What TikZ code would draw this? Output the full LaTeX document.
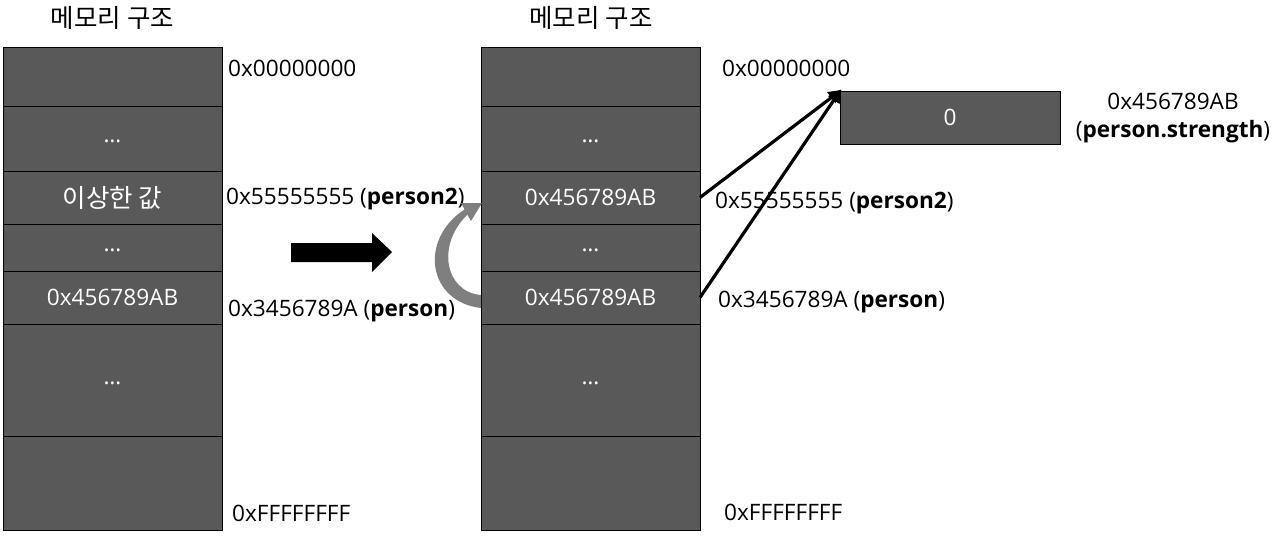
\documentclass[tikz,border=0pt]{standalone}
\usepackage{fontspec}
\usetikzlibrary{arrows.meta}
\setmainfont{Open Sans}
\newfontfamily\kr{Noto Sans CJK KR}
\newcommand{\krbig}{\kr\fontsize{25.5}{30}\selectfont}
\newcommand{\dotsx}{\smash{\raisebox{-4pt}{…}}}
\begin{document}
\begin{tikzpicture}[x=1pt,y=-1pt,
  cell/.style={draw=black, line width=0.9pt, fill=cellgray, minimum width=219pt, inner sep=0pt, outer sep=0pt, anchor=north west, text=white, font=\fontsize{22.6}{27}\selectfont},
  lab/.style={anchor=base west, inner sep=0pt, font=\fontsize{22.6}{27}\selectfont},
  ttl/.style={inner sep=0pt, font=\krbig},
  ptr/.style={line width=3.2pt, -{Triangle[length=13pt,width=13pt]}, shorten >=-2pt}
]
\definecolor{cellgray}{HTML}{595959}
\definecolor{arrgray}{HTML}{7F7F7F}
\useasboundingbox (0,0) rectangle (1273,535);
% titles
\node[ttl] (T1) at (112.5,18) {메모리 구조};
\node[ttl] (T2) at (591,18) {메모리 구조};
% left column
\node[cell, minimum height=59pt] (L1) at (3,47) {};
\node[cell, minimum height=65pt] (L2) at (3,106) {\dotsx};
\node[cell, minimum height=53pt] (L3) at (3,171) {\krbig 이상한 값};
\node[cell, minimum height=47pt] (L4) at (3,224) {\dotsx};
\node[cell, minimum height=53pt] (L5) at (3,271) {0x456789AB};
\node[cell, minimum height=112pt] (L6) at (3,324) {\dotsx};
\node[cell, minimum height=94pt] (L7) at (3,436) {};
% right column
\node[cell, minimum height=59pt] (R1) at (481,47) {};
\node[cell, minimum height=65pt] (R2) at (481,106) {\dotsx};
\node[cell, minimum height=53pt] (R3) at (481,171) {0x456789AB};
\node[cell, minimum height=47pt] (R4) at (481,224) {\dotsx};
\node[cell, minimum height=53pt] (R5) at (481,271) {0x456789AB};
\node[cell, minimum height=112pt] (R6) at (481,324) {\dotsx};
\node[cell, minimum height=94pt] (R7) at (481,436) {};
% zero box
\node[cell, minimum width=220pt, minimum height=53pt] (Z) at (840,91) {0};
% left labels
\node[lab] (la1) at (228,76) {0x00000000};
\node[lab] (la2) at (226,204) {0x55555555 (\textbf{person2})};
\node[lab] (la3) at (228,316) {0x3456789A (\textbf{person})};
\node[lab] (la4) at (232,521) {0xFFFFFFFF};
% right labels
\node[lab] (ra1) at (722,76) {0x00000000};
\node[lab] (ra2) at (715,208) {0x55555555 (\textbf{person2})};
\node[lab] (ra3) at (718,307) {0x3456789A (\textbf{person})};
\node[lab] (ra4) at (724,520) {0xFFFFFFFF};
\node[inner sep=0pt, align=center, font=\fontsize{22.6}{28}\selectfont, anchor=center] (zl) at (1173,118) {0x456789AB\\(\textbf{person.strength})};
% pointers
\draw[ptr] (R3.east) -- (Z.north west);
\draw[ptr] (R5.east) -- (Z.north west);
% big block arrow
\fill[black] (291,243) -- (372,243) -- (372,233) -- (392,252) -- (372,272) -- (372,262) -- (291,262) -- cycle;
% curved gray arrow
\fill[arrgray] (481,308) .. controls (428,302) and (418,240) .. (464.6,209.4) -- (461,203) -- (482,203) -- (471,221) -- (467.4,214.6) .. controls (436,245) and (445,292) .. (481,295) -- cycle;
\end{tikzpicture}
\end{document}
